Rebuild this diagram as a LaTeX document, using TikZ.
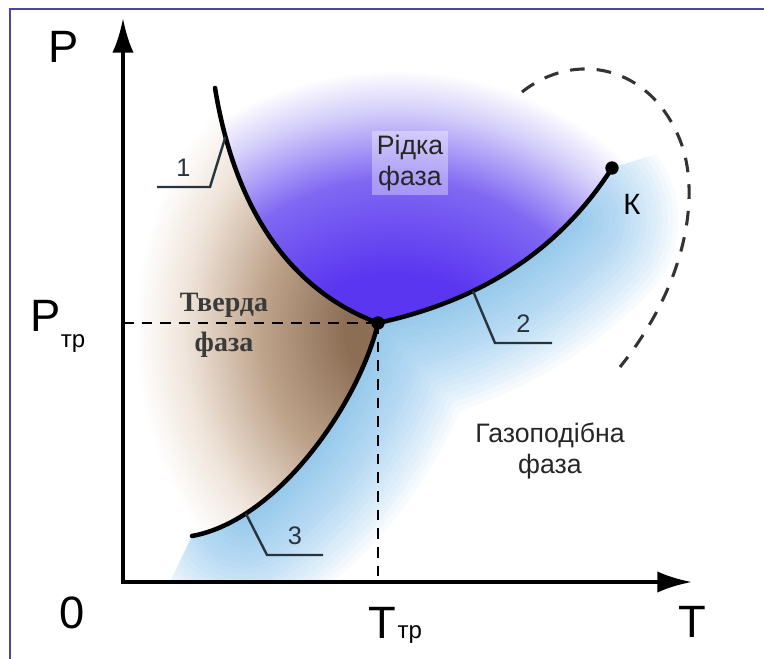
\documentclass[tikz,border=0pt]{standalone}
\usepackage{fontspec}
\setmainfont{Liberation Sans}
\newfontfamily\phaseserif{Liberation Serif}
\usetikzlibrary{arrows.meta,positioning}
\definecolor{FrameBlue}{HTML}{4B46A0}
\definecolor{LiquidDeep}{HTML}{5A36F0}
\definecolor{LiquidMid}{HTML}{8068F3}
\definecolor{LiquidPale}{HTML}{D4CEFA}
\definecolor{SolidDeep}{HTML}{8C6E55}
\definecolor{SolidMid}{HTML}{BFA48C}
\definecolor{SolidPale}{HTML}{EFE4DA}
\definecolor{GasBlue}{HTML}{5AAEEB}
\definecolor{LeaderGray}{HTML}{26353D}
\definecolor{LabelGray}{HTML}{3A3A3A}
% glow of each phase region (25bp = edge of the shaded path)
\pgfdeclareradialshading{liquidglow}{\pgfpoint{0bp}{0bp}}{color(0bp)=(LiquidDeep); color(10bp)=(LiquidDeep); color(17bp)=(LiquidMid); color(22bp)=(LiquidPale); color(25bp)=(white); color(50bp)=(white)}
\pgfdeclareradialshading{solidglow}{\pgfpoint{0bp}{0bp}}{color(0bp)=(SolidDeep); color(4bp)=(SolidDeep); color(12.5bp)=(SolidMid); color(20bp)=(SolidPale); color(25bp)=(white); color(50bp)=(white)}

\begin{document}
\begin{tikzpicture}[
	x=0.75pt, y=-0.75pt, % pixel grid of the picture
	% Style for the two axes
	axis arrow/.style={
		line width=3pt,
		{Latex[length=26pt,width=16pt]}-{Latex[length=26pt,width=16pt]}
	},
	% Style for the phase boundaries
	phase line/.style={
		line width=3.4pt,
		line cap=round
	},
	% Style for the dashed guides to the axes
	guide/.style={
		line width=2pt,
		dash pattern=on 8pt off 6pt
	},
	critical/.style={
		draw=black!80,
		line width=2.3pt,
		dash pattern=on 11pt off 9pt
	},
	% Style for the numbered leader lines
	leader/.style={
		draw=LeaderGray,
		line width=1.8pt
	},
	leader label/.style={
		font=\fontsize{19}{19}\selectfont,
		text=LeaderGray,
		inner sep=0pt,
		above=7pt
	},
	phase point/.style={
		circle,
		fill=black,
		minimum size=10pt,
		inner sep=0pt
	},
	axis label/.style={
		font=\fontsize{34}{34}\selectfont
	},
	phase label/.style={
		font=\fontsize{20}{23}\selectfont,
		align=center,
		text=black!85
	},
	solid label/.style={
		font=\phaseserif\bfseries\fontsize{21}{30}\selectfont,
		align=center,
		text=LabelGray
	},
	border line/.style={
		draw=FrameBlue,
		line width=2.2pt
	}
	]
	
	\fill[white] (0,0) rectangle (764,659);
	\useasboundingbox (0,0) rectangle (764,659);
	
	% 1. Key points
	\coordinate (origin) at (123,582);
	\coordinate (ptop) at (123,18);
	\coordinate (tright) at (692,582);
	\coordinate (tp) at (378,323);          % triple point
	\coordinate (K) at (612,168);           % critical point
	\coordinate (melt top) at (215,88);
	\coordinate (subl start) at (192,536);
	
	% 2. Phase regions
	% Liquid
	\begin{scope}
		\clip (melt top) .. controls (235,210) and (290,290) .. (tp)
			.. controls (460,305) and (550,265) .. (K) -- (700,140) -- (700,40) -- (215,40) -- cycle;
		\shade[shading=liquidglow] (395,410) circle (340);
	\end{scope}
	
	% Solid
	\begin{scope}
		\clip (130,88) -- (melt top) .. controls (235,210) and (290,290) .. (tp)
			.. controls (360,400) and (280,520) .. (subl start) -- (130,536) -- cycle;
		\shade[shading=solidglow] (385,330) ellipse [x radius=250, y radius=300];
	\end{scope}
	
	% Gas
	\begin{scope}
		\clip (subl start) .. controls (280,520) and (360,400) .. (tp)
			.. controls (460,305) and (550,265) .. (K) -- (700,140) -- (700,582) -- (170,582) -- cycle;
		\foreach \w in {8,16,...,160}
			\draw[GasBlue, line width=\w pt, draw opacity=0.045, line cap=round, line join=round]
				(243.4,515.1) .. controls (309.5,473.7) and (363.6,384.6) .. (tp)
				.. controls (443.6,308.6) and (514.3,279.7) .. (571.7,219.7);
	\end{scope}
	
	% 3. Guides to the axes
	\draw[guide] (origin |- tp) -- (tp);
	\draw[guide] (tp) -- (tp |- origin);
	
	% 4. Phase boundaries
	\draw[phase line] (melt top) .. controls (235,210) and (290,290) .. coordinate[pos=0.14] (m1) (tp);
	\draw[phase line] (tp) .. controls (460,305) and (550,265) .. coordinate[pos=0.38] (m2) (K);
	\draw[phase line] (subl start) .. controls (280,520) and (360,400) .. coordinate[pos=0.21] (m3) (tp);
	
	% Critical region
	\coordinate (cr start) at (522,92);
	\coordinate (cr mid) at (680,140);
	\coordinate (cr end) at (620,367);
	\draw[critical] (cr start) .. controls (575,50) and (650,65) .. (cr mid)
		.. controls (700,190) and (690,280) .. (cr end);
	
	% 5. Leader lines
	\coordinate (l1 bend) at (210,187);
	\coordinate (l1 end) at (157,187);
	\coordinate (l2 bend) at (495,343);
	\coordinate (l2 end) at (552,343);
	\coordinate (l3 bend) at (267,555);
	\coordinate (l3 end) at (323,555);
	\draw[leader] (m1) -- (l1 bend) -- node[leader label] (n1) {1} (l1 end);
	\draw[leader] (m2) -- (l2 bend) -- node[leader label] (n2) {2} (l2 end);
	\draw[leader] (m3) -- (l3 bend) -- node[leader label] (n3) {3} (l3 end);
	
	% 6. Axes and points
	\draw[axis arrow] (ptop) -- (origin) -- (tright);
	\node[phase point] (tp dot) at (tp) {};
	\node[phase point] (k dot) at (K) {};
	
	% 7. Labels
	\node[axis label] (p label) at (64,47) {P};
	\node[axis label] (zero) at (72,613) {0};
	\node[axis label] (t label) at (692,622) {T};
	\node[axis label, anchor=base west] (ptr) at (26,332) {P\raisebox{-12pt}{\fontsize{18}{18}\selectfont тр}};
	\node[axis label, anchor=base west] (ttr) at (364,638) {T\kern1pt{\fontsize{18}{18}\selectfont тр}};
	\node[font=\fontsize{22}{22}\selectfont] (k label) at (632,204) {К};
	\node[phase label, fill=white, fill opacity=0.35, text opacity=1] (liquid) at (410,163) {Рідка\\фаза};
	\node[solid label] (solid) at (224,325) {Тверда\\фаза};
	\node[phase label, fill=white, fill opacity=0.5, text opacity=1] (gas) at (550,451) {Газоподібна\\фаза};
	
	% Frame
	\draw[border line] (10,659) -- (10,9) -- (764,9);
	
\end{tikzpicture}
\end{document}
